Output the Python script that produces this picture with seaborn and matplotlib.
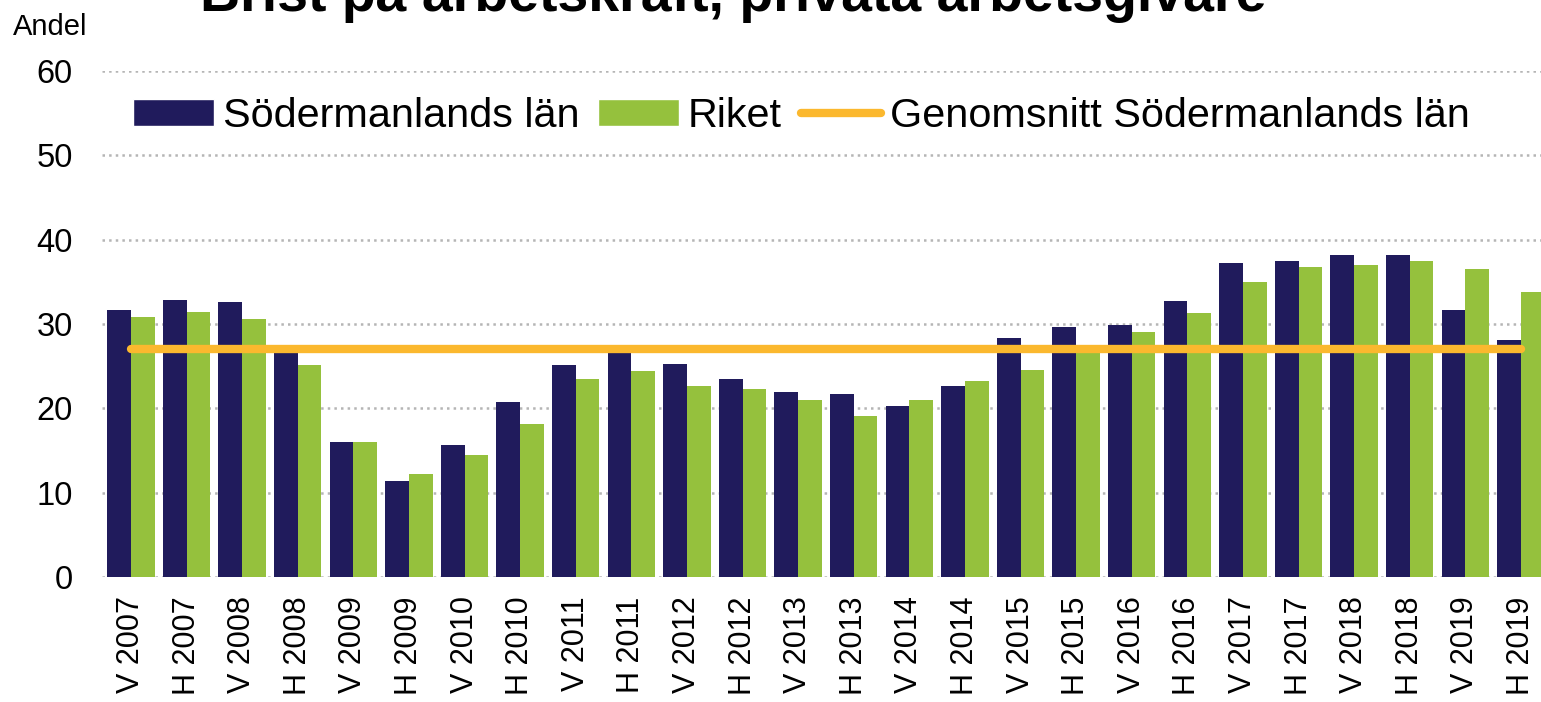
import numpy as np
import pandas as pd
import seaborn as sns
import matplotlib.pyplot as plt
from matplotlib.patches import Patch
from matplotlib.lines import Line2D

# Data
perioder = ['V 2007', 'H 2007', 'V 2008', 'H 2008', 'V 2009', 'H 2009',
            'V 2010', 'H 2010', 'V 2011', 'H 2011', 'V 2012', 'H 2012',
            'V 2013', 'H 2013', 'V 2014', 'H 2014', 'V 2015', 'H 2015',
            'V 2016', 'H 2016', 'V 2017', 'H 2017', 'V 2018', 'H 2018',
            'V 2019', 'H 2019']
sodermanland = [31.7, 32.9, 32.6, 26.8, 16.0, 11.4, 15.7, 20.7, 25.1, 26.9,
                25.3, 23.5, 21.9, 21.7, 20.3, 22.6, 28.3, 29.7, 29.9, 32.7,
                37.2, 37.5, 38.2, 38.2, 31.7, 28.1]
riket = [30.8, 31.4, 30.6, 25.1, 16.0, 12.2, 14.5, 18.2, 23.5, 24.4,
         22.6, 22.3, 21.0, 19.1, 21.0, 23.2, 24.6, 27.3, 29.0, 31.3,
         35.0, 36.8, 37.0, 37.5, 36.5, 33.8]
genomsnitt = 27.0

serier = ['Södermanlands län', 'Riket']
navy = '#201B5C'
green = '#95C13D'
orange = '#FBB82E'

df = pd.DataFrame({
    'period': perioder * 2,
    'serie': [serier[0]] * len(perioder) + [serier[1]] * len(perioder),
    'andel': sodermanland + riket,
})

sns.set_style('white')
plt.rcParams['font.family'] = ['Liberation Sans', 'DejaVu Sans']
plt.rcParams['text.color'] = 'black'
plt.rcParams['xtick.color'] = 'black'
plt.rcParams['ytick.color'] = 'black'

fig = plt.figure(figsize=(15.41, 7.02), dpi=100)
W, H = 1541, 702
left_px, bottom_px, top_px = 102, 577, 71
x0, x1 = -0.52, 25.5
px_per_cat = 55.6
ax = fig.add_axes([left_px / W, 1 - bottom_px / H,
                   (x1 - x0) * px_per_cat / W, (bottom_px - top_px) / H])

sns.barplot(data=df, x='period', y='andel', hue='serie', order=perioder,
            hue_order=serier, palette=[navy, green], saturation=1,
            width=0.85, gap=0, legend=False, linewidth=0, edgecolor='none',
            ax=ax)

# average line for Södermanland
ax.plot(np.arange(len(perioder)), [genomsnitt] * len(perioder), color=orange,
        lw=6, solid_capstyle='round', zorder=5)

ax.set_xlim(x0, x1)
ax.set_ylim(0, 60)
ax.set_yticks(range(0, 61, 10))
ax.set_xlabel('')
ax.set_ylabel('')
ax.set_axisbelow(True)
ax.yaxis.grid(True, color='#b5b5b5', linestyle=':', lw=1.8)
ax.xaxis.grid(False)
for s in ax.spines.values():
    s.set_visible(False)
ax.tick_params(axis='y', length=0, pad=21, labelsize=23.5, labelcolor='black')
ax.tick_params(axis='x', length=0, pad=14, labelsize=22, rotation=90,
               labelcolor='black')

handles = [Patch(facecolor=navy), Patch(facecolor=green),
           Line2D([0], [0], color=orange, lw=6, solid_capstyle='round')]
ax.legend(handles, ['Södermanlands län', 'Riket', 'Genomsnitt Södermanlands län'],
          ncol=3, loc='center left', bbox_to_anchor=(133 / W, 1 - 116 / H),
          bbox_transform=fig.transFigure, frameon=False, fontsize=29.8,
          handlelength=1.95, handleheight=0.6, handletextpad=0.22,
          columnspacing=0.45, borderpad=0, borderaxespad=0)

fig.text(13 / W, 1 - 35 / H, 'Andel', fontsize=21, ha='left', va='baseline')
fig.text(733 / W, 1 - 11 / H, 'Brist på arbetskraft, privata arbetsgivare',
         fontsize=40, fontweight='bold', ha='center', va='baseline')

fig.savefig('out.png', dpi=100)
